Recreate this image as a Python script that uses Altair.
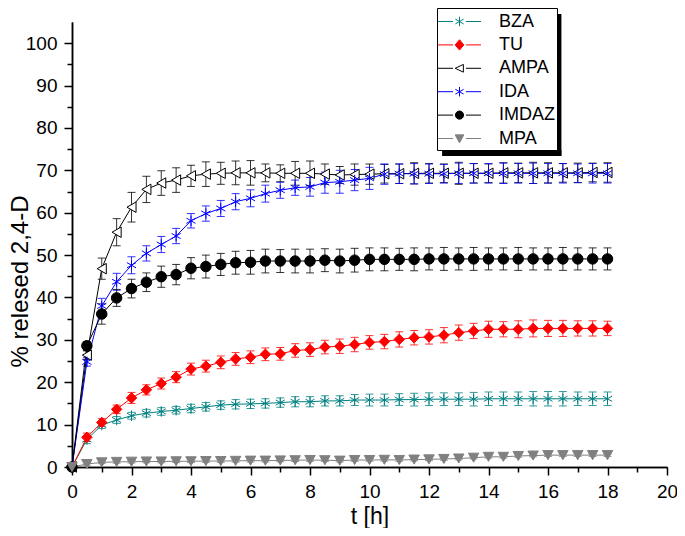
import altair as alt
import pandas as pd

times = [0, 0.5, 1, 1.5, 2, 2.5, 3, 3.5, 4, 4.5, 5, 5.5, 6, 6.5, 7, 7.5, 8, 8.5, 9,
         9.5, 10, 10.5, 11, 11.5, 12, 12.5, 13, 13.5, 14, 14.5, 15, 15.5, 16, 16.5,
         17, 17.5, 18]

series_names = ["BZA", "TU", "AMPA", "IDA", "IMDAZ", "MPA"]

bza = [0, 6.5, 9.9, 11.1, 12.1, 12.7, 13.1, 13.4, 13.8, 14.2, 14.6, 14.8, 14.9, 15.0,
       15.2, 15.4, 15.4, 15.6, 15.6, 15.8, 15.8, 15.8, 15.9, 15.9, 16.0, 16.0, 16.0,
       16.0, 16.1, 16.1, 16.1, 16.1, 16.1, 16.1, 16.1, 16.1, 16.1]
bza_err = [0, 1.0, 0.8, 0.8, 0.8, 0.9, 0.9, 0.9, 1.0, 1.0, 1.0, 1.1, 1.1, 1.1, 1.1,
           1.2, 1.2, 1.2, 1.2, 1.3, 1.4, 1.4, 1.4, 1.5, 1.5, 1.5, 1.5, 1.6, 1.6, 1.6,
           1.6, 1.7, 1.7, 1.7, 1.6, 1.6, 1.6]

tu = [0, 7.0, 10.5, 13.6, 16.3, 18.2, 19.7, 21.2, 23.1, 23.8, 24.7, 25.5, 25.9, 26.6,
      26.7, 27.5, 27.7, 28.3, 28.5, 28.9, 29.4, 29.6, 30.1, 30.5, 30.7, 31.1, 31.7,
      32.1, 32.5, 32.5, 32.5, 32.7, 32.7, 32.7, 32.7, 32.7, 32.7]
tu_err = [0, 1.0, 0.9, 1.0, 1.3, 1.2, 1.3, 1.3, 1.4, 1.4, 1.5, 1.5, 1.5, 1.5, 1.5,
          1.6, 1.6, 1.6, 1.7, 1.7, 1.6, 1.7, 1.8, 1.7, 1.7, 1.8, 1.8, 1.8, 1.9, 1.8,
          2.0, 2.0, 1.9, 1.9, 1.8, 1.8, 1.7]

ampa = [0, 26.4, 46.8, 55.4, 61.3, 65.5, 67.0, 67.7, 68.7, 69.1, 69.3, 69.4, 69.4,
        69.4, 69.3, 69.3, 69.3, 69.1, 68.9, 69.0, 69.1, 69.2, 69.2, 69.3, 69.3, 69.3,
        69.3, 69.3, 69.3, 69.4, 69.4, 69.4, 69.4, 69.4, 69.4, 69.5, 69.5]
ampa_err = [0, 1.0, 2.5, 3.2, 3.5, 3.1, 2.9, 2.9, 2.5, 2.9, 2.6, 2.8, 2.9, 2.1, 2.0,
            2.8, 2.9, 2.4, 2.0, 2.5, 2.4, 2.2, 2.3, 2.5, 2.3, 2.2, 2.6, 2.3, 2.2, 2.4,
            2.3, 2.5, 2.4, 2.2, 2.3, 2.2, 2.3]

ida = [0, 24.8, 38.0, 43.7, 47.6, 50.4, 52.5, 54.5, 58.1, 59.8, 61.0, 62.6, 63.4,
       64.5, 65.3, 65.9, 66.1, 67.1, 67.3, 67.7, 68.1, 69.1, 69.2, 69.2, 69.2, 69.2,
       69.3, 69.3, 69.3, 69.3, 69.3, 69.3, 69.3, 69.3, 69.3, 69.3, 69.3]
ida_err = [0, 1.0, 1.8, 2.0, 2.0, 1.8, 1.9, 1.8, 1.7, 1.8, 1.9, 1.9, 2.0, 2.0, 1.9,
           1.8, 2.2, 2.5, 2.7, 2.5, 2.6, 2.4, 2.3, 2.4, 2.3, 2.2, 2.4, 2.3, 2.3, 2.4,
           2.3, 2.4, 2.3, 2.3, 2.2, 2.3, 2.3]

imdaz = [0, 28.6, 36.1, 39.9, 42.1, 43.6, 44.9, 45.4, 46.9, 47.3, 47.8, 48.2, 48.3,
         48.6, 48.6, 48.6, 48.6, 48.8, 48.6, 48.8, 49.0, 49.0, 49.0, 49.0, 49.1, 49.1,
         49.1, 49.1, 49.1, 49.1, 49.1, 49.1, 49.1, 49.1, 49.1, 49.1, 49.1]
imdaz_err = [0, 1.0, 2.4, 2.0, 2.2, 2.2, 2.5, 2.4, 2.5, 2.7, 2.6, 2.7, 2.8, 2.8, 2.7,
             2.8, 2.8, 2.7, 2.8, 2.8, 2.7, 2.7, 2.6, 2.7, 2.6, 2.7, 2.6, 2.7, 2.6, 2.6,
             2.7, 2.6, 2.6, 2.7, 2.6, 2.6, 2.6]

mpa = [0, 0.7, 1.1, 1.2, 1.25, 1.3, 1.3, 1.35, 1.35, 1.4, 1.4, 1.45, 1.5, 1.5, 1.55,
       1.6, 1.65, 1.6, 1.5, 1.65, 1.65, 1.7, 1.65, 1.75, 1.8, 1.9, 2.0, 2.2, 2.4, 2.4,
       2.6, 2.7, 2.8, 2.8, 2.8, 2.8, 2.8]
mpa_err = [0, 0.3, 0.3, 0.3, 0.3, 0.3, 0.3, 0.3, 0.3, 0.3, 0.3, 0.3, 0.3, 0.3, 0.3,
           0.3, 0.3, 0.3, 0.3, 0.3, 0.3, 0.3, 0.3, 0.3, 0.3, 0.3, 0.3, 0.3, 0.3, 0.3,
           0.3, 0.3, 0.3, 0.3, 0.3, 0.3, 0.3]

x_major_ticks = [0, 2, 4, 6, 8, 10, 12, 14, 16, 18, 20]
x_minor_ticks = [1, 3, 5, 7, 9, 11, 13, 15, 17, 19]
y_major_ticks = [0, 10, 20, 30, 40, 50, 60, 70, 80, 90, 100]
y_minor_ticks = [5, 15, 25, 35, 45, 55, 65, 75, 85, 95]

line_colors = ["#008080", "#FF0000", "#000000", "#0000FF", "#000000", "#808080"]
fill_colors = ["transparent", "#FF0000", "#FFFFFF", "transparent", "#000000", "#808080"]

asterisk = "M0,-1V1M-0.87,-0.5L0.87,0.5M-0.87,0.5L0.87,-0.5"
marker_shapes = [asterisk, "diamond", "triangle-left", asterisk, "circle", "triangle-down"]

seg = "M-2,0H-0.6M0.6,0H2"
legend_shapes = [
    seg + "M0,-0.44V0.44M-0.38,-0.22L0.38,0.22M-0.38,0.22L0.38,-0.22",
    seg + "M0,-0.48L0.4,0L0,0.48L-0.4,0Z",
    seg + "M-0.4,0L0.36,-0.36L0.36,0.36Z",
    seg + "M0,-0.44V0.44M-0.38,-0.22L0.38,0.22M-0.38,0.22L0.38,-0.22",
    seg + "M-0.38,0A0.38,0.38 0 1,0 0.38,0A0.38,0.38 0 1,0 -0.38,0Z",
    seg + "M-0.4,-0.34L0.4,-0.34L0,0.4Z",
]

# legend drop-shadow edges (right side and bottom), in axis units
shadow_t0 = [16.35, 12.44]
shadow_t1 = [16.35, 16.45]
shadow_p0 = [106.9, 74.1]
shadow_p1 = [73.4, 74.1]

values = [bza, tu, ampa, ida, imdaz, mpa]
errors = [bza_err, tu_err, ampa_err, ida_err, imdaz_err, mpa_err]
rows = []
for name, vals, errs in zip(series_names, values, errors):
    for t, v, e in zip(times, vals, errs):
        rows.append({"t": t, "series": name, "val": v, "lo": v - e, "hi": v + e})
df = pd.DataFrame(rows)
shadow_df = pd.DataFrame({"t0": shadow_t0, "t1": shadow_t1,
                          "p0": shadow_p0, "p1": shadow_p1})

FONT = "Liberation Sans"
xs = alt.Scale(domain=[0, 20], nice=False, zero=False)
ys = alt.Scale(domain=[0, 105], nice=False, zero=False)

color_scale = alt.Scale(domain=series_names, range=line_colors)
fill_scale = alt.Scale(domain=series_names, range=fill_colors)
shape_scale = alt.Scale(domain=series_names, range=marker_shapes)
legend_shape_scale = alt.Scale(domain=series_names, range=legend_shapes)

base = alt.Chart(df)

x_major = alt.Axis(values=x_major_ticks, tickSize=8, labelPadding=7, title="t [h]",
                   orient="bottom", titlePadding=4, format="d")
y_major = alt.Axis(values=y_major_ticks, tickSize=8, labelPadding=7,
                   title="% relesed 2,4-D", orient="left", titleX=-40, titleY=259,
                   format="d")
x_minor = alt.Axis(values=x_minor_ticks, tickSize=5, labels=False, title=None,
                   orient="bottom")
y_minor = alt.Axis(values=y_minor_ticks, tickSize=5, labels=False, title=None,
                   orient="left")

errbars = base.mark_errorbar(ticks=True, size=8, thickness=1, opacity=0.8).encode(
    x=alt.X("t:Q", scale=xs, axis=None),
    y=alt.Y("lo:Q", scale=ys, axis=None),
    y2="hi:Q",
    color=alt.Color("series:N", scale=color_scale, legend=None),
)

lines = base.mark_line(strokeWidth=1).encode(
    x=alt.X("t:Q", scale=xs, axis=x_major),
    y=alt.Y("val:Q", scale=ys, axis=y_major),
    color=alt.Color("series:N", scale=color_scale, legend=None),
    detail="series:N",
)

points = base.mark_point(filled=True, size=110, strokeWidth=1, opacity=1).encode(
    x=alt.X("t:Q", scale=xs, axis=x_minor),
    y=alt.Y("val:Q", scale=ys, axis=y_minor),
    shape=alt.Shape("series:N", scale=shape_scale, legend=None),
    fill=alt.Fill("series:N", scale=fill_scale, legend=None),
    stroke=alt.Stroke("series:N", scale=color_scale, legend=None),
)

leg = alt.Legend(
    orient="none", legendX=365, legendY=-14, title=None,
    strokeColor="black", fillColor="white", padding=2,
    symbolSize=462, symbolStrokeWidth=1, symbolOpacity=1, symbolOffset=9,
    labelFont=FONT, labelFontSize=18, labelOffset=28, labelColor="black",
    labelExpr="datum.label + ' '",
    rowPadding=2.4, cornerRadius=0,
)

legend_layer = base.transform_filter("false").mark_point(
    filled=True, size=462, strokeWidth=1, opacity=1
).encode(
    x=alt.X("t:Q", scale=xs, axis=None),
    y=alt.Y("val:Q", scale=ys, axis=None),
    shape=alt.Shape("series:N", scale=legend_shape_scale, legend=leg),
    fill=alt.Fill("series:N", scale=fill_scale, legend=leg),
    stroke=alt.Stroke("series:N", scale=color_scale, legend=leg),
)

shadow = alt.Chart(shadow_df).mark_rule(color="black", strokeWidth=6).encode(
    x=alt.X("t0:Q", scale=xs, axis=None),
    x2="t1:Q",
    y=alt.Y("p0:Q", scale=ys, axis=None),
    y2="p1:Q",
)

chart = alt.layer(shadow, errbars, lines, points, legend_layer).resolve_scale(
    shape="independent", fill="independent", stroke="independent"
).resolve_axis(
    x="independent", y="independent"
).properties(
    width=595, height=445,
    autosize=alt.AutoSizeParams(type="none"),
    padding={"left": 64, "top": 14, "right": 10, "bottom": 61},
).configure_axis(
    grid=False, domainColor="black", domainWidth=1.5, tickColor="black",
    tickWidth=1.5, labelFont=FONT, labelFontSize=19, labelColor="black",
    labelFlush=False, labelOverlap=False,
    titleFont=FONT, titleFontSize=23, titleFontWeight="normal", titleColor="black",
).configure_axisLeft(
    titleFontSize=24
).configure_legend(
    labelFont=FONT, labelFontSize=18
).configure_view(stroke=None)

chart.save("out.html", embed_options={"renderer": "svg", "actions": False})
